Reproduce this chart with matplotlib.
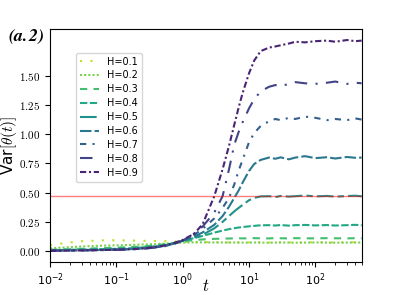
import matplotlib
matplotlib.use('Agg')
import matplotlib.pyplot as plt
import numpy as np
from matplotlib.ticker import FuncFormatter

plt.rcParams['mathtext.fontset'] = 'cm'

# data
t = [0.01, 0.015, 0.02, 0.03, 0.05, 0.07, 0.1, 0.15, 0.2, 0.3, 0.5, 0.7, 1, 1.5, 2, 3, 4, 5,
     6, 7, 8, 10, 12, 15, 20, 25, 30, 40, 50, 70, 100, 150, 200, 300, 400, 500]

h_labels = ['H=0.1', 'H=0.2', 'H=0.3', 'H=0.4', 'H=0.5', 'H=0.6', 'H=0.7', 'H=0.8', 'H=0.9']

var_h01 = [0.050, 0.065, 0.075, 0.085, 0.090, 0.093, 0.093, 0.091, 0.090, 0.088, 0.086, 0.083,
           0.080, 0.078, 0.077, 0.076, 0.075, 0.075, 0.076, 0.075, 0.074, 0.075, 0.076, 0.075,
           0.074, 0.075, 0.076, 0.075, 0.074, 0.075, 0.076, 0.075, 0.074, 0.075, 0.076, 0.075]
var_h02 = [0.025, 0.030, 0.034, 0.040, 0.045, 0.048, 0.050, 0.052, 0.055, 0.058, 0.063, 0.068,
           0.073, 0.075, 0.075, 0.074, 0.074, 0.073, 0.074, 0.073, 0.073, 0.073, 0.074, 0.073,
           0.072, 0.073, 0.074, 0.073, 0.072, 0.073, 0.074, 0.073, 0.072, 0.073, 0.074, 0.073]
var_h03 = [0.012, 0.015, 0.017, 0.020, 0.024, 0.027, 0.030, 0.034, 0.037, 0.044, 0.057, 0.069,
           0.084, 0.094, 0.100, 0.105, 0.107, 0.108, 0.109, 0.110, 0.109, 0.110, 0.111, 0.110,
           0.109, 0.111, 0.110, 0.109, 0.111, 0.110, 0.109, 0.111, 0.110, 0.109, 0.111, 0.110]
var_h04 = [0.008, 0.010, 0.012, 0.014, 0.016, 0.018, 0.020, 0.024, 0.028, 0.035, 0.050, 0.066,
           0.088, 0.112, 0.130, 0.158, 0.176, 0.188, 0.196, 0.202, 0.206, 0.212, 0.216, 0.221,
           0.222, 0.219, 0.223, 0.218, 0.222, 0.224, 0.220, 0.223, 0.219, 0.222, 0.225, 0.221]
var_h05 = [0.006, 0.007, 0.008, 0.010, 0.012, 0.013, 0.015, 0.019, 0.023, 0.030, 0.045, 0.062,
           0.090, 0.115, 0.140, 0.195, 0.250, 0.300, 0.340, 0.370, 0.395, 0.435, 0.455, 0.468,
           0.470, 0.462, 0.472, 0.466, 0.470, 0.476, 0.468, 0.472, 0.466, 0.471, 0.474, 0.469]
var_h06 = [0.005, 0.006, 0.007, 0.008, 0.010, 0.011, 0.013, 0.016, 0.020, 0.027, 0.042, 0.060,
           0.090, 0.125, 0.160, 0.225, 0.300, 0.380, 0.455, 0.520, 0.585, 0.685, 0.745, 0.780,
           0.800, 0.790, 0.802, 0.785, 0.800, 0.812, 0.795, 0.803, 0.792, 0.805, 0.798, 0.800]
var_h07 = [0.004, 0.005, 0.006, 0.007, 0.009, 0.010, 0.012, 0.015, 0.018, 0.025, 0.040, 0.058,
           0.090, 0.140, 0.190, 0.280, 0.370, 0.455, 0.570, 0.690, 0.780, 0.930, 1.010, 1.070,
           1.110, 1.130, 1.120, 1.140, 1.130, 1.150, 1.140, 1.120, 1.130, 1.120, 1.135, 1.125]
var_h08 = [0.003, 0.004, 0.005, 0.006, 0.008, 0.009, 0.011, 0.014, 0.017, 0.024, 0.038, 0.056,
           0.090, 0.150, 0.210, 0.330, 0.470, 0.700, 0.910, 1.020, 1.100, 1.220, 1.300, 1.365,
           1.405, 1.420, 1.410, 1.430, 1.445, 1.435, 1.430, 1.440, 1.450, 1.430, 1.440, 1.435]
var_h09 = [0.003, 0.004, 0.005, 0.006, 0.008, 0.010, 0.012, 0.016, 0.020, 0.028, 0.045, 0.065,
           0.095, 0.150, 0.230, 0.470, 0.700, 0.900, 1.080, 1.230, 1.350, 1.520, 1.630, 1.710,
           1.740, 1.750, 1.760, 1.775, 1.790, 1.785, 1.795, 1.800, 1.790, 1.805, 1.795, 1.800]

ref_level = 0.47

series = [var_h01, var_h02, var_h03, var_h04, var_h05, var_h06, var_h07, var_h08, var_h09]
styles = [(0, (1, 4)), (0, (1, 1)), (0, (3.5, 3)), (0, (3.5, 1.2)), (0, (8, 2, 3, 2)),
          (0, (5.5, 1.5)), (0, (3, 3, 1, 3)), (0, (6, 4, 1, 4)), (0, (3, 1.3, 1, 1.3))]
colors = plt.cm.viridis(np.linspace(0.9, 0.1, 9))

fig = plt.figure(figsize=(3.95, 2.95), dpi=100)
ax = fig.add_axes([0.1266, 0.113, 0.789, 0.789])

for y, ls, c, lab in zip(series, styles, colors, h_labels):
    ax.plot(t, y, linestyle=ls, color=c, lw=1.5, label=lab)

ax.axhline(ref_level, color='red', alpha=0.5, lw=1)

ax.set_xscale('log')
ax.set_xlim(0.01, 500)
ax.set_ylim(-0.09, 1.90)
ax.set_yticks([0, 0.25, 0.5, 0.75, 1.0, 1.25, 1.5])
ax.yaxis.set_major_formatter(FuncFormatter(lambda v, p: '$%.2f$' % v))
ax.tick_params(labelsize=8)

ax.set_xlabel(r'$t$', fontsize=12)
ax.xaxis.set_label_coords(0.5, -0.065)
ax.xaxis.label.set_va('top')
ax.set_ylabel(r'Var$[\theta(t)]$', fontsize=11)
ax.yaxis.set_label_coords(-0.1, 0.5)

ax.legend(loc='upper left', bbox_to_anchor=(0.083, 0.898), borderaxespad=0,
          fontsize=7, labelspacing=0.4, handlelength=2.0)

fig.text(0.02, 1 - 37 / 295, r'$\mathbfit{(a.\!2)}$', fontsize=13, va='center', ha='left')

fig.savefig('out.png', dpi=100)
